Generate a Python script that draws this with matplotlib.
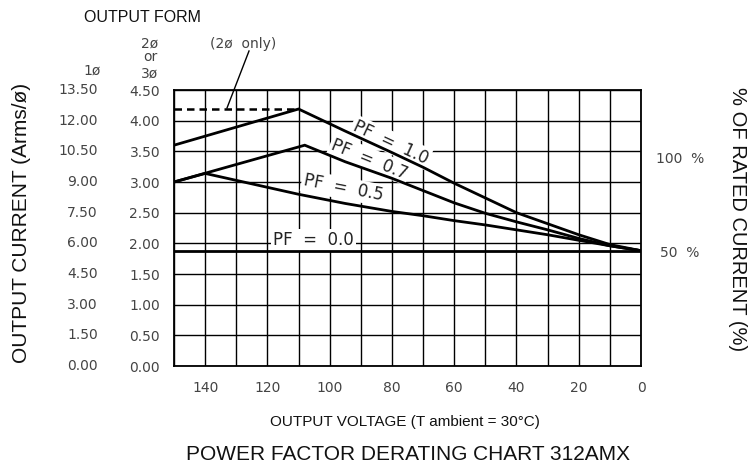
import numpy as np
import matplotlib
matplotlib.use("Agg")
import matplotlib.pyplot as plt
from matplotlib.lines import Line2D
import matplotlib.transforms as mtransforms

# ------------------------------------------------------------
# Data
# ------------------------------------------------------------
voltage_labels = [140, 120, 100, 80, 60, 40, 20, 0]
voltage_grid = [0, 10, 20, 30, 40, 50, 60, 70, 80, 90, 100, 110, 120, 130, 140, 150]
current_3ph = [0.0, 0.5, 1.0, 1.5, 2.0, 2.5, 3.0, 3.5, 4.0, 4.5]
current_1ph = [0.0, 1.5, 3.0, 4.5, 6.0, 7.5, 9.0, 10.5, 12.0, 13.5]

v_pf10 = [150, 110, 95, 80, 70, 60, 50, 40, 30, 20, 10, 0]
i_pf10 = [3.60, 4.19, 3.83, 3.48, 3.24, 2.98, 2.74, 2.50, 2.32, 2.14, 1.98, 1.88]

v_pf07 = [150, 108, 95, 80, 70, 60, 50, 40, 30, 20, 10, 0]
i_pf07 = [3.00, 3.60, 3.33, 3.06, 2.86, 2.66, 2.49, 2.35, 2.22, 2.08, 1.96, 1.88]

v_pf05 = [150, 140, 110, 95, 80, 70, 60, 50, 40, 30, 20, 10, 0]
i_pf05 = [3.00, 3.14, 2.80, 2.65, 2.52, 2.45, 2.37, 2.30, 2.22, 2.14, 2.05, 1.96, 1.88]

v_pf00 = [150, 0]
i_pf00 = [1.87, 1.87]

v_2ph_only = [150, 110]
i_2ph_only = [4.19, 4.19]

W, H = 753, 469
fig = plt.figure(figsize=(W / 100, H / 100), dpi=100)
ax = fig.add_axes([174 / W, 103 / H, 467 / W, 276 / H])

cad = 'DejaVu Sans'
arial = 'Liberation Sans'
tick_col = '#444444'

# ------------------------------------------------------------
# Grid / axes
# ------------------------------------------------------------
ax.set_xlim(150, 0)
ax.set_ylim(0, 4.5)
ax.set_xticks(voltage_labels)
ax.set_xticks(voltage_grid, minor=True)
ax.set_xticklabels([str(v) for v in voltage_labels], fontsize=10,
                   family=cad, color=tick_col)
ax.set_yticks(current_3ph)
ax.set_yticklabels(['%.2f' % c for c in current_3ph], fontsize=10,
                   family=cad, color=tick_col)
ax.tick_params(axis='both', which='both', length=0)
ax.tick_params(axis='x', pad=11)
ax.tick_params(axis='y', pad=10)
ax.set_axisbelow(True)
ax.grid(True, which='both', color='black', lw=1.0)
for s in ax.spines.values():
    s.set_color('black')
    s.set_linewidth(1.3)

# 1-phase column of labels
trans = mtransforms.blended_transform_factory(ax.transAxes, ax.transData)
for c in current_1ph:
    ax.text(-0.163, c / 3.0, '%.2f' % c, transform=trans, ha='right',
            va='center', fontsize=10, family=cad, color=tick_col)

# ------------------------------------------------------------
# Curves
# ------------------------------------------------------------
for v, i in [(v_pf10, i_pf10), (v_pf07, i_pf07), (v_pf05, i_pf05),
             (v_pf00, i_pf00)]:
    ax.plot(v, i, color='black', lw=2.0, zorder=4, solid_joinstyle='miter')
ax.plot(v_2ph_only, i_2ph_only, color='black', lw=1.8, ls=(0, (3, 2)),
        zorder=4)

box = dict(facecolor='white', edgecolor='none', pad=1.5)
ax.text(80.5, 3.65, 'PF  =  1.0', rotation=-25, ha='center', va='center',
        fontsize=12, family=cad, color='#222222', bbox=box, zorder=3)
ax.text(87.2, 3.37, 'PF  =  0.7', rotation=-22, ha='center', va='center',
        fontsize=12, family=cad, color='#222222', bbox=box, zorder=3)
ax.text(95.6, 2.90, 'PF  =  0.5', rotation=-11, ha='center', va='center',
        fontsize=12, family=cad, color='#222222', bbox=box, zorder=3)
ax.text(105.2, 2.05, 'PF  =  0.0', rotation=0, ha='center', va='center',
        fontsize=12, family=cad, color='#222222', bbox=box, zorder=3)

# ------------------------------------------------------------
# Header / side annotations (figure pixel positions)
# ------------------------------------------------------------
def ftext(x, y, s, **kw):
    fig.text(x / W, 1 - y / H, s, ha='center', va='center', **kw)

ftext(142, 18, 'OUTPUT FORM', fontsize=11.5, family=arial, color='#111111')
ftext(150, 44, '2ø', fontsize=10, family=cad, color=tick_col)
ftext(150, 57, 'or', fontsize=10, family=cad, color=tick_col)
ftext(150, 74, '3ø', fontsize=10, family=cad, color=tick_col)
ftext(92, 71, '1ø', fontsize=10, family=cad, color=tick_col)
ftext(243, 44, '(2ø  only)', fontsize=10, family=cad, color=tick_col)
fig.add_artist(Line2D([249 / W, 227 / W], [1 - 51 / H, 1 - 108 / H],
                      color='black', lw=1.0, transform=fig.transFigure))

ftext(22, 223, 'OUTPUT CURRENT (Arms/ø)', rotation=90, fontsize=15,
      family=arial, color='#111111')
ftext(738, 219, '% OF RATED CURRENT (%)', rotation=-90, fontsize=14.5,
      family=arial, color='#111111')
ftext(680, 159, '100  %', fontsize=10, family=cad, color=tick_col)
ftext(680, 253, '50  %', fontsize=10, family=cad, color=tick_col)

ftext(405, 422, 'OUTPUT VOLTAGE (T ambient = 30°C)', fontsize=11,
      family=arial, color='#111111')
ftext(408, 454, 'POWER FACTOR DERATING CHART 312AMX', fontsize=15,
      family=arial, color='#111111')

fig.savefig('out.png', dpi=100, facecolor='white')
